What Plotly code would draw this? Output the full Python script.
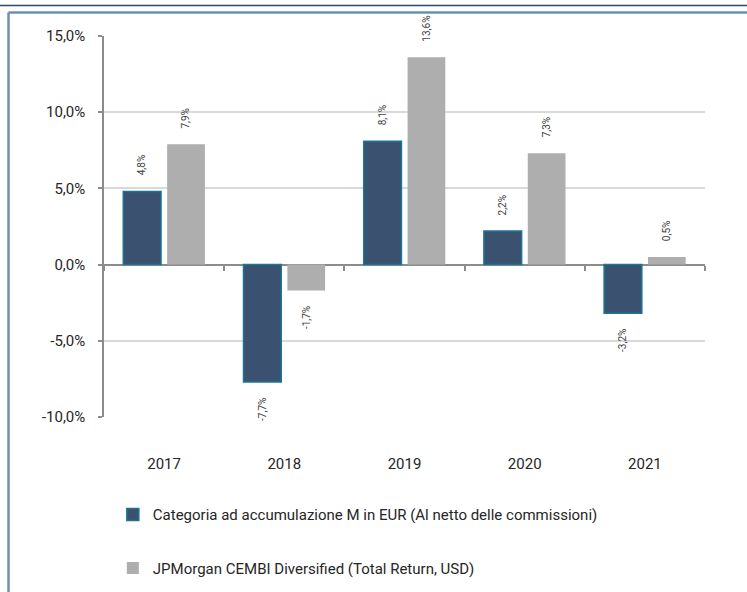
import plotly.graph_objects as go

years = ["2017", "2018", "2019", "2020", "2021"]
fund_values = [4.8, -7.7, 8.1, 2.2, -3.2]
index_values = [7.9, -1.7, 13.6, 7.3, 0.5]
fund_name = "Categoria ad accumulazione M in EUR (Al netto delle commissioni)"
index_name = "JPMorgan CEMBI Diversified (Total Return, USD)"
y_tickvals = [-10, -5, 0, 5, 10, 15]
y_ticktext = ["-10,0%", "-5,0%", "0,0%", "5,0%", "10,0%", "15,0%"]

FONT = "Roboto, sans-serif"
DARK = "#3A5170"
EDGE = "#1C7593"
GREY = "#AEAEAE"

def fmt(v):
    return f"{v:.1f}".replace(".", ",") + "%"

fig = go.Figure()
fig.add_trace(go.Bar(x=years, y=fund_values, name=fund_name, legendgroup="a",
                     marker=dict(color=DARK, line=dict(color=EDGE, width=1.5))))
fig.add_trace(go.Bar(x=years, y=index_values, name=index_name, legendgroup="b",
                     marker=dict(color=GREY, line=dict(color=GREY, width=0))))
# invisible trace to put boundary ticks on the zero line
fig.add_trace(go.Scatter(x=[None], y=[None], xaxis="x2", showlegend=False, hoverinfo="skip"))

ymin, ymax = -10, 15
SHIFT = 21.8
for vals, sh in ((fund_values, -SHIFT), (index_values, SHIFT)):
    for i, v in enumerate(vals):
        fig.add_annotation(x=i, y=v, xref="x", yref="y", text=fmt(v), showarrow=False,
                           textangle=-90, xshift=sh, yshift=14 if v >= 0 else -14,
                           yanchor="bottom" if v >= 0 else "top",
                           font=dict(family=FONT, size=10, color="#404040"))

zero_pos = (0 - ymin) / (ymax - ymin)
xr = [-0.5, len(years) - 0.5]

fig.update_layout(
    width=747, height=592,
    margin=dict(l=104, r=42, t=36, b=175, autoexpand=False),
    paper_bgcolor="white", plot_bgcolor="white",
    barmode="group", bargap=0.27, bargroupgap=0.14,
    font=dict(family=FONT, size=15, color="#262626"),
    xaxis=dict(type="category", categoryorder="array", categoryarray=years,
               range=xr, autorange=False,
               showgrid=False, showline=False, zeroline=False,
               ticks="", ticklabelstandoff=36, tickfont=dict(size=15, color="#262626")),
    xaxis2=dict(overlaying="x", anchor="free", position=zero_pos, range=xr, autorange=False,
                tickmode="array", tickvals=[i - 0.5 for i in range(len(years) + 1)],
                ticks="outside", ticklen=5, tickwidth=1.5, tickcolor="#8C8C8C",
                showticklabels=False, showgrid=False, zeroline=False, showline=False),
    yaxis=dict(range=[ymin, ymax], autorange=False, tickmode="array", tickvals=y_tickvals,
               ticktext=y_ticktext,
               showgrid=True, gridcolor="#D9D9D9", gridwidth=1.5,
               zeroline=True, zerolinecolor="#8C8C8C", zerolinewidth=2,
               showline=True, linecolor="#8C8C8C", linewidth=1.5,
               ticks="outside", ticklen=4, tickwidth=1.5, tickcolor="#8C8C8C",
               ticklabelstandoff=10, tickfont=dict(size=15, color="#262626")),
    legend=dict(orientation="v", x=0.0147, xanchor="left", y=-0.2135, yanchor="top",
                tracegroupgap=31, font=dict(family=FONT, size=15, color="#262626"),
                bgcolor="rgba(0,0,0,0)", itemclick=False),
    showlegend=True,
)

# frame lines around the panel
fx = (8.5 - 104) / 601
fy = (417 - 12.5) / 381
ty = (417 - 5.5) / 381
fig.add_shape(type="line", xref="paper", yref="paper", x0=fx, x1=fx, y0=-1.0, y1=fy,
              line=dict(color="#6E8FB5", width=2.5))
fig.add_shape(type="line", xref="paper", yref="paper", x0=fx, x1=1.2, y0=fy, y1=fy,
              line=dict(color="#6E8FB5", width=2.5))
fig.add_shape(type="line", xref="paper", yref="paper", x0=-0.2, x1=1.2, y0=ty, y1=ty,
              line=dict(color="#2E4A6B", width=1.5))

fig.write_html("out.html", config={"displayModeBar": False},
               post_script="document.body.style.margin='0';document.body.style.overflow='hidden';")
